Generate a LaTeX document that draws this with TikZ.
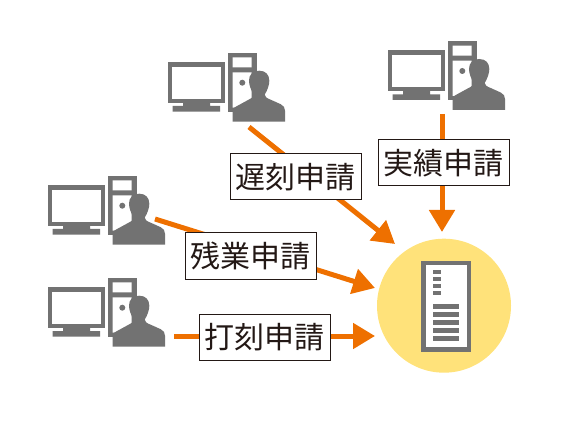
\documentclass[tikz,border=0pt]{standalone}
\usepackage{fontspec}
\newfontfamily\cjk{Noto Sans CJK JP}
\usetikzlibrary{arrows.meta}
\definecolor{icongray}{HTML}{727272}
\definecolor{flow}{HTML}{EE7000}
\definecolor{hub}{HTML}{FFE27A}
\definecolor{ink}{HTML}{231815}
\tikzset{
  x=1pt,y=-1pt,
  flowline/.style={draw=flow,line width=5pt,-{Triangle[length=22pt,width=25pt]}},
  reqbox/.style={draw=ink,fill=white,line width=1pt,text=ink,inner sep=0pt,minimum width=131pt,minimum height=46pt,font=\cjk\fontsize{30}{30}\selectfont},
  solidgray/.style={fill=icongray,draw=none},
  cutout/.style={fill=white,draw=none},
  client/.pic={
    \path[solidgray] (0,9.3) rectangle (57.3,50.3);
    \path[cutout] (4.6,14) rectangle (53,46.3);
    \path[solidgray] (15.3,50) rectangle (42.3,54) (5,53.3) rectangle (52.3,59);
    \path[solidgray] (60.3,0) rectangle (89,59);
    \path[cutout] (65,4.6) rectangle (84,14.6) (65,19.6) rectangle (84,55);
    \path[solidgray] (74.6,30) circle (3pt);
    \path[solidgray] (65,69) -- (65,58) .. controls (65,55.5) and (66,55) .. (69,53.5)
      -- (80,47.5) .. controls (84,45.5) and (86,44) .. (86,42)
      .. controls (83,37) and (81.3,32) .. (81.3,28)
      .. controls (81.3,22) and (85,18) .. (91.5,18)
      .. controls (98,18) and (101.6,22) .. (101.6,28)
      .. controls (101.6,32) and (100,37) .. (97,42)
      .. controls (97,44) and (99,45.5) .. (103,47)
      -- (113,51.5) .. controls (116,53) and (117.3,55) .. (117.3,58)
      -- (117.3,69) -- cycle;
  }
}
\begin{document}
\begin{tikzpicture}
\useasboundingbox (0,0) rectangle (561,427);
\node[circle,fill=hub,minimum size=134pt,inner sep=0pt] (srv) at (444,305.7) {};
\node[solidgray,minimum width=49.7pt,minimum height=91.3pt,inner sep=0pt] (box) at (445.9,306.4) {};
\node[cutout,minimum width=41pt,minimum height=82pt,inner sep=0pt] (boxin) at (446.2,306.3) {};
\foreach \y in {270,277.3,284.3,291.3}
  \path[solidgray] (433,\y) rectangle (441,\y+3.6);
\foreach \y in {304,312,320.3,328.3,336.3}
  \path[solidgray] (433,\y) rectangle (459,\y+4.7);
\pic at (167.7,52.7) {client};
\pic at (387.7,41) {client};
\pic at (47.7,175.7) {client};
\pic at (47.7,277.7) {client};
\coordinate (s1) at (249,127);
\coordinate (s2) at (442,114);
\coordinate (s3) at (155,219);
\coordinate (s4) at (174,336);
\coordinate (t1) at (395,244);
\coordinate (t2) at (442,232);
\coordinate (t3) at (375,288);
\coordinate (t4) at (375,336);
\draw[flowline] (s1) -- (t1);
\draw[flowline] (s2) -- (t2);
\draw[flowline] (s3) -- (t3);
\draw[flowline] (s4) -- (t4);
\node[reqbox] (r1) at (295.5,177) {遅刻申請};
\node[reqbox] (r2) at (443.7,163) {実績申請};
\node[reqbox] (r3) at (250.5,256) {残業申請};
\node[reqbox] (r4) at (264.5,337) {打刻申請};
\end{tikzpicture}
\end{document}
